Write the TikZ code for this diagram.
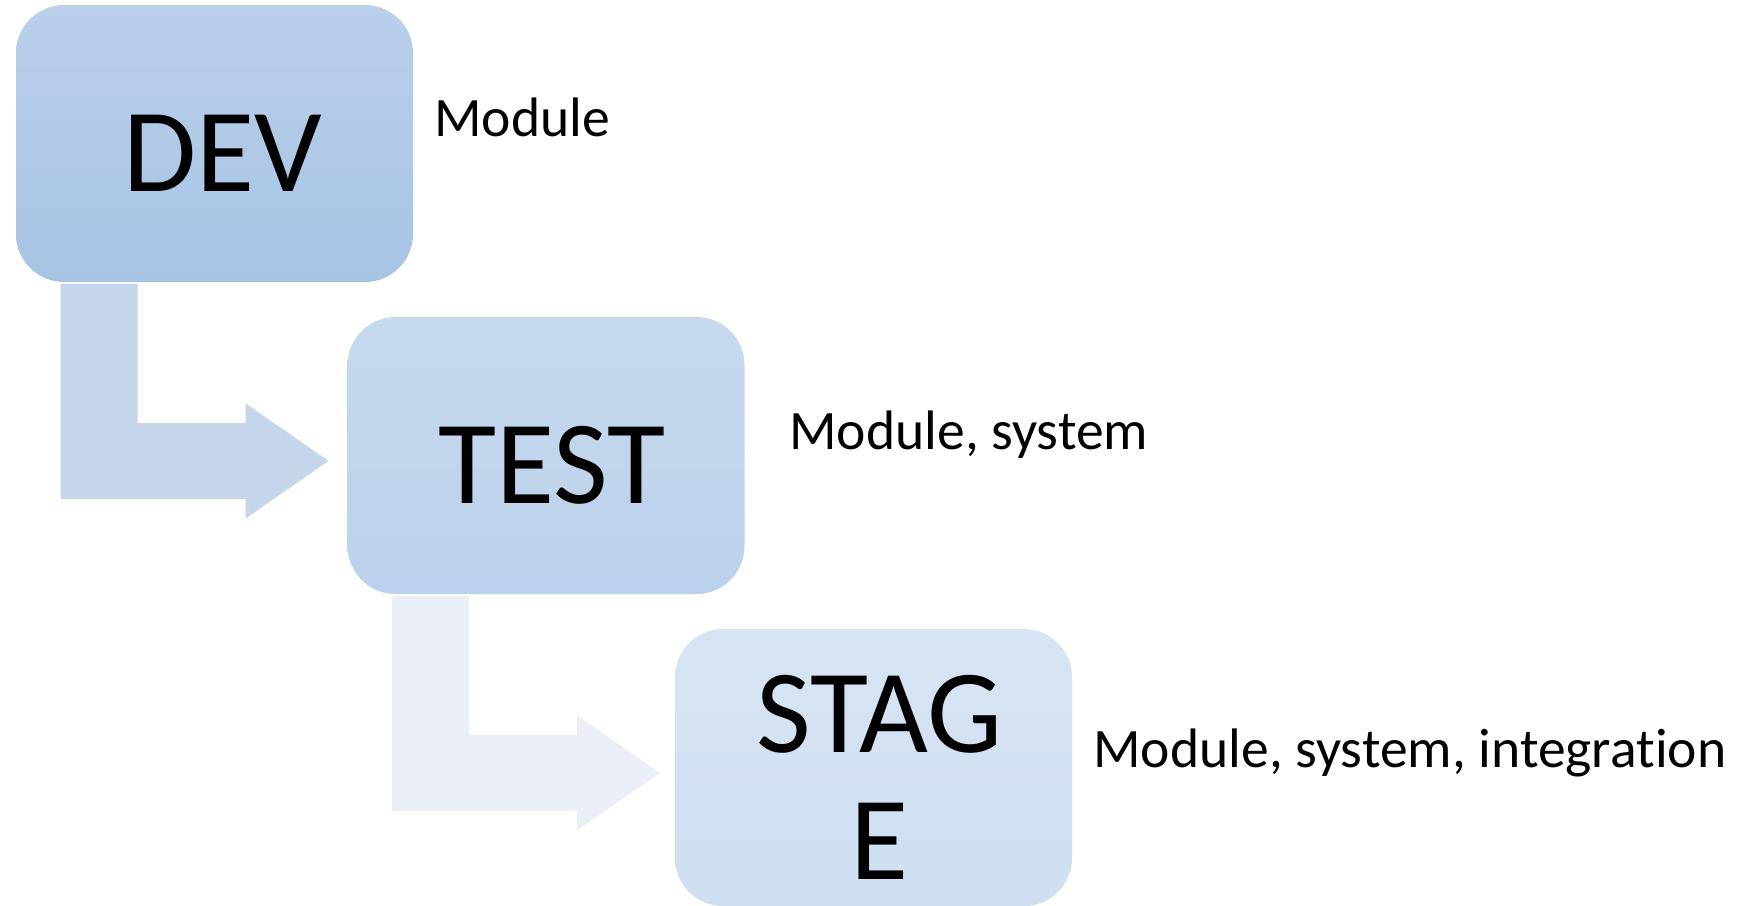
\documentclass[tikz,border=0pt]{standalone}
\usepackage{fontspec}
\setmainfont{Carlito}[Ligatures=NoCommon]
\usepackage{xcolor}
\usepackage{tikz}
\usetikzlibrary{positioning}

\definecolor{devtop}{HTML}{B9CFEA}
\definecolor{devbot}{HTML}{A8C4E5}
\definecolor{testtop}{HTML}{C7D9EE}
\definecolor{testbot}{HTML}{BBD1EB}
\definecolor{stagtop}{HTML}{D7E4F3}
\definecolor{stagbot}{HTML}{CFDFF1}
\definecolor{flowA}{HTML}{C5D6EB}
\definecolor{flowB}{HTML}{E9EEF7}

\begin{document}
\begin{tikzpicture}[x=0.5pt,y=-0.5pt,
  envbox/.style={shade,rounded corners=24pt,minimum width=198.5pt,minimum height=138.5pt,inner sep=0pt},
  envname/.style={font=\fontsize{59.5}{63.5}\selectfont,anchor=base,align=center,inner sep=0pt},
  note/.style={font=\fontsize{27.8}{32}\selectfont,anchor=base west,inner sep=0pt}]
\useasboundingbox (0,0) rectangle (1760,905);
% the three environments
\node[envbox,top color=devtop,bottom color=devbot](dev) at (214.5,143.5){};
\node[envbox,top color=testtop,bottom color=testbot](test) at (546,455.5){};
\node[envbox,top color=stagtop,bottom color=stagbot](stag) at (873.5,767.5){};
\node[envname](devname) at ([xshift=4pt,yshift=-23.75pt]dev.center){DEV};
\node[envname](testname) at ([xshift=3pt,yshift=-23.75pt]test.center){TEST};
\node[envname](stagname) at ([xshift=3pt,yshift=-55.75pt]stag.center){STAG\\E};
% bent arrows
\foreach \from/\col in {dev/flowA,test/flowB}
  \fill[\col,shift={(\from.south west)}](45,1.5)--(122,1.5)--(122,140.5)--(230,140.5)--(230,121)
    --(313,178.5)--(230,236)--(230,216.5)--(45,216.5)--cycle;
% what is tested where
\node[note](devnote) at (434,136){Module};
\node[note](testnote) at (789,449){Module, system};
\node[note](stagnote) at (1093,767){Module, system, integration};
\end{tikzpicture}
\end{document}
